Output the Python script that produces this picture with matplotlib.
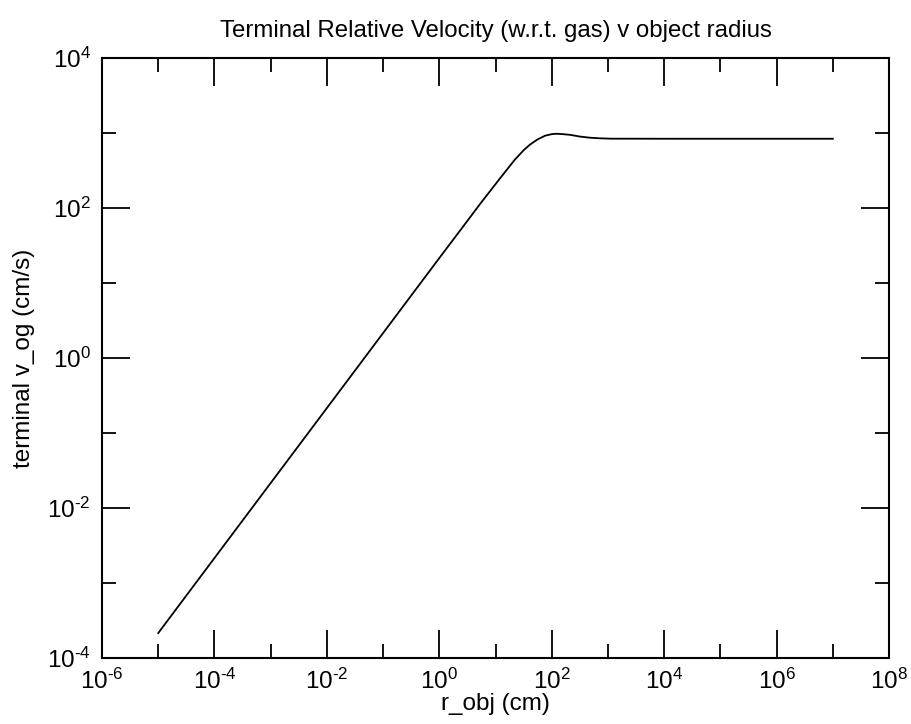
import matplotlib
matplotlib.use("Agg")
import matplotlib.pyplot as plt
from matplotlib.ticker import LogLocator, NullFormatter, FuncFormatter
import numpy as np

# values
r_obj = [1e-5, 1e-4, 1e-3, 1e-2, 1e-1, 1.0, 2.34, 5.3, 12.0, 22.0, 32.0,
         41.0, 55.0, 76.0, 100.0, 115.0, 130.0, 150.0, 212.0, 320.0, 480.0,
         700.0, 1100.0, 1e4, 1e5, 1e6, 1e7]
v_og = [2.15e-4, 2.15e-3, 2.15e-2, 0.215, 2.15, 21.5, 50.0, 113.0, 248.0,
        440.0, 595.0, 700.0, 815.0, 920.0, 965.0, 974.0, 975.0, 968.0, 945.0,
        895.0, 865.0, 850.0, 840.0, 838.0, 838.0, 838.0, 838.0]

title = "Terminal Relative Velocity (w.r.t. gas) v object radius"
xlabel = "r_obj (cm)"
ylabel = "terminal v_og (cm/s)"

plt.rcParams['font.family'] = ['Liberation Sans', 'DejaVu Sans']
plt.rcParams['mathtext.fontset'] = 'custom'
plt.rcParams['mathtext.rm'] = 'Liberation Sans'


def pow10(v, pos):
    e = int(round(np.log10(v)))
    if e < 0:
        return r'$\mathdefault{10^{\text{-}%d}}$' % (-e)
    return r'$\mathdefault{10^{%d}}$' % e


fig = plt.figure(figsize=(9.11, 7.24), dpi=100)
ax = fig.add_axes([0.112, 0.0912, 0.8639, 0.8287])

ax.plot(r_obj, v_og, color='black', linewidth=1.3)
ax.set_xscale('log')
ax.set_yscale('log')
ax.set_xlim(1e-6, 1e8)
ax.set_ylim(1e-4, 1e4)

ax.xaxis.set_major_locator(LogLocator(base=100.0, numticks=20))
ax.xaxis.set_minor_locator(LogLocator(base=10.0, numticks=20))
ax.yaxis.set_major_locator(LogLocator(base=100.0, numticks=20))
ax.yaxis.set_minor_locator(LogLocator(base=10.0, numticks=20))
ax.xaxis.set_major_formatter(FuncFormatter(pow10))
ax.yaxis.set_major_formatter(FuncFormatter(pow10))
ax.xaxis.set_minor_formatter(NullFormatter())
ax.yaxis.set_minor_formatter(NullFormatter())

ax.tick_params(which='both', direction='in', top=True, right=True, width=1.3, labelsize=17.5)
ax.tick_params(which='major', length=20, pad=8)
ax.tick_params(which='minor', length=10)
for s in ax.spines.values():
    s.set_linewidth(1.5)

ax.set_title(title, fontsize=17.3, pad=15)
ax.set_xlabel(xlabel, fontsize=17.5, labelpad=-1)
ax.set_ylabel(ylabel, fontsize=17.5, labelpad=9)

fig.savefig("out.png", dpi=100)
